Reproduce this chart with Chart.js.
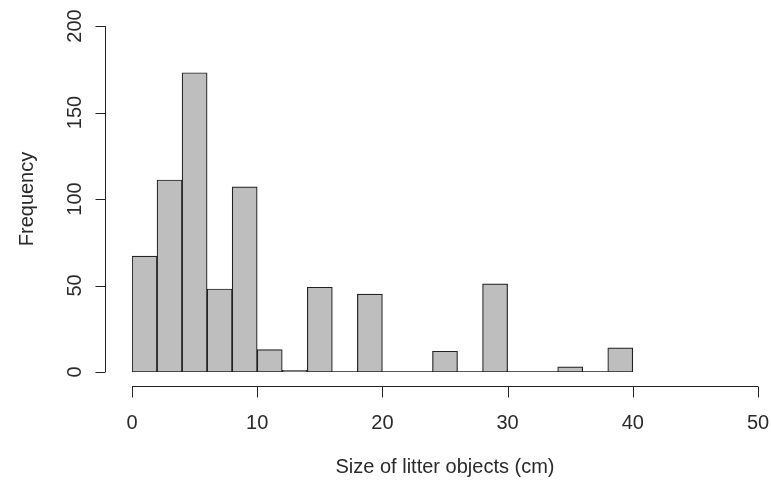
<!DOCTYPE html>
<html lang="en">
<head>
    <meta charset="UTF-8">
    <title>Size of litter objects</title>
    <script src="https://cdn.jsdelivr.net/npm/chart.js"></script>
    <style>
        body {
            margin: 0;
            background: #fff;
        }
        #wrap {
            width: 771px;
            height: 487px;
        }
    </style>
</head>
<body>
    <div id="wrap">
        <canvas id="hist" width="771" height="487"></canvas>
    </div>

    <script>
        // histogram bins (cm), width 2
        const binStarts = [0, 2, 4, 6, 8, 10, 12, 14, 16, 18, 20, 22, 24, 26, 28, 30, 32, 34, 36, 38];
        const binWidth = 2;
        const counts = [67, 111, 173, 48, 107, 13, 1, 49, 0, 45, 0, 0, 12, 0, 51, 0, 0, 3, 0, 14];
        const xTicks = [0, 10, 20, 30, 40, 50];
        const yTicks = [0, 50, 100, 150, 200];

        const textColor = '#2a2a2a';
        const lineColor = '#222';
        const fontFamily = '"Liberation Sans", Arial, sans-serif';

        const barData = binStarts.map((s, i) => ({ x: s + binWidth / 2, y: counts[i] }));
        // baseline under the empty bins, like R's hist()
        const baseData = [
            { x: binStarts[0], y: 0 },
            { x: binStarts[binStarts.length - 1] + binWidth, y: 0 }
        ];

        // R style detached axes
        const rAxes = {
            id: 'rAxes',
            afterDraw(chart) {
                const { ctx, chartArea, scales: { x, y } } = chart;
                ctx.save();
                ctx.strokeStyle = lineColor;
                ctx.lineWidth = 1;
                ctx.beginPath();
                // x axis
                const ay = Math.round(chartArea.bottom + 14) + 0.5;
                ctx.moveTo(x.getPixelForValue(xTicks[0]), ay);
                ctx.lineTo(x.getPixelForValue(xTicks[xTicks.length - 1]), ay);
                xTicks.forEach(v => {
                    const px = Math.round(x.getPixelForValue(v)) + 0.5;
                    ctx.moveTo(px, ay);
                    ctx.lineTo(px, ay + 11);
                });
                // y axis
                const ax = Math.round(chartArea.left - 27) + 0.5;
                ctx.moveTo(ax, y.getPixelForValue(yTicks[0]));
                ctx.lineTo(ax, y.getPixelForValue(yTicks[yTicks.length - 1]));
                yTicks.forEach(v => {
                    const py = Math.round(y.getPixelForValue(v)) + 0.5;
                    ctx.moveTo(ax, py);
                    ctx.lineTo(ax - 10, py);
                });
                ctx.stroke();
                ctx.restore();
            }
        };

        const ctx = document.getElementById('hist').getContext('2d');
        const chart = new Chart(ctx, {
            type: 'bar',
            data: {
                datasets: [
                    {
                        type: 'line',
                        data: baseData,
                        borderColor: lineColor,
                        borderWidth: 1.6,
                        pointRadius: 0,
                        order: 2
                    },
                    {
                        data: barData,
                        backgroundColor: '#bebebe',
                        borderColor: lineColor,
                        borderWidth: 1.2,
                        borderSkipped: false,
                        barPercentage: 1,
                        categoryPercentage: 1,
                        order: 1
                    }
                ]
            },
            options: {
                responsive: false,
                animation: false,
                layout: {
                    padding: { top: 26, right: 13, bottom: 0, left: 0 }
                },
                plugins: {
                    legend: { display: false },
                    tooltip: { enabled: false }
                },
                scales: {
                    x: {
                        type: 'linear',
                        offset: false,
                        min: 0,
                        max: 50,
                        grid: { display: false },
                        border: { display: false },
                        ticks: {
                            stepSize: 10,
                            color: textColor,
                            padding: 31,
                            font: { family: fontFamily, size: 20 },
                            maxRotation: 0
                        },
                        title: {
                            display: true,
                            text: 'Size of litter objects (cm)',
                            color: textColor,
                            font: { family: fontFamily, size: 20 },
                            padding: { top: 0, bottom: 8 }
                        },
                        afterFit(scale) {
                            scale.height = 115;
                            scale.paddingLeft = 0;
                            scale.paddingRight = 0;
                        }
                    },
                    y: {
                        min: 0,
                        max: 200,
                        grid: { display: false },
                        border: { display: false },
                        ticks: {
                            stepSize: 50,
                            color: textColor,
                            padding: 32,
                            minRotation: 90,
                            maxRotation: 90,
                            crossAlign: 'center',
                            font: { family: fontFamily, size: 20 }
                        },
                        title: {
                            display: true,
                            text: 'Frequency',
                            color: textColor,
                            font: { family: fontFamily, size: 20 },
                            padding: { top: 15, bottom: 0 }
                        },
                        afterFit(scale) {
                            scale.width = 132;
                            scale.paddingTop = 0;
                            scale.paddingBottom = 0;
                        }
                    }
                }
            },
            plugins: [rAxes]
        });
    </script>
</body>
</html>
